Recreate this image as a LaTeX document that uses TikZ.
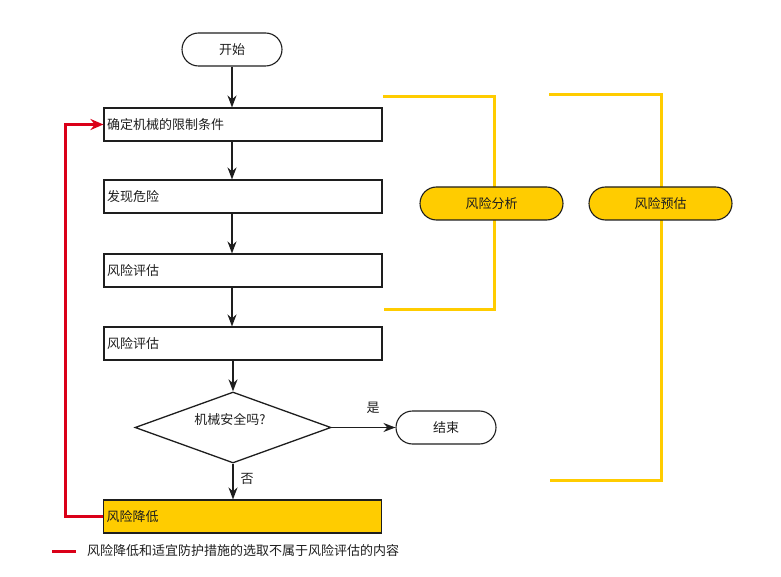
\documentclass[tikz,border=0pt]{standalone}
\usepackage{fontspec}
\setmainfont{Noto Sans CJK SC}
\usetikzlibrary{shapes.geometric,shapes.misc,arrows.meta}
\definecolor{yel}{RGB}{255,204,0}
\definecolor{redl}{RGB}{218,0,24}
\definecolor{edge}{RGB}{30,30,30}
\begin{document}
\begin{tikzpicture}[x=1pt,y=-1pt,
  every node/.style={font=\fontsize{13}{15}\selectfont, text=edge},
  stepbox/.style={draw=edge, line width=1.1pt, text width=272pt, align=left, inner sep=3pt, minimum height=33pt},
  term/.style={draw=edge, line width=1.1pt, rounded rectangle, minimum width=104pt, minimum height=33pt, inner sep=2pt},
  pill/.style={draw=edge, line width=1.1pt, fill=yel, rounded rectangle, minimum width=147pt, minimum height=33pt, inner sep=2pt},
  arr/.style={draw=edge, line width=1.5pt, -{Stealth[length=12pt,width=9pt]}},
  yline/.style={draw=yel, line width=3pt},
  redarr/.style={draw=redl, line width=3pt, -{Stealth[length=13pt,width=11pt]}}
]
\useasboundingbox (0,0) rectangle (781,577);

% yellow brackets (behind)
\coordinate (y1a) at (383,97);
\coordinate (y1b) at (494,97);
\coordinate (y1c) at (494,309);
\coordinate (y1d) at (384,309);
\draw[yline] (y1a) -- (y1b) -- (y1c) -- (y1d);
\coordinate (y2a) at (549,95);
\coordinate (y2b) at (661,95);
\coordinate (y2c) at (661,480);
\coordinate (y2d) at (550,480);
\draw[yline] (y2a) -- (y2b) -- (y2c) -- (y2d);

\node[pill] (p1) at (491.5,203.5) {风险分析};
\node[pill] (p2) at (660.5,203.5) {风险预估};

% main flow
\node[term] (start) at (232,49.5) {开始};
\node[stepbox] (b1) at (243,124.5) {确定机械的限制条件};
\node[stepbox] (b2) at (243,196.5) {发现危险};
\node[stepbox] (b3) at (243,270.5) {风险评估};
\node[stepbox] (b4) at (243,343.5) {风险评估};
\node[diamond, draw=edge, line width=1.3pt, minimum width=196pt, minimum height=71pt, inner sep=0pt, aspect=2.76] (dec) at (233,427.5) {};
\node (dect) at (230,419) {机械安全吗?};
\node[term] (end) at (446,427.5) {结束};
\node[stepbox, fill=yel] (b5) at (242.5,516.5) {风险降低};

\draw[arr] (start.south) -- (start.south |- b1.north);
\draw[arr] (b1.south -| start.south) -- (b2.north -| start.south);
\draw[arr] (b2.south -| start.south) -- (b3.north -| start.south);
\draw[arr] (b3.south -| start.south) -- (b4.north -| start.south);
\draw[arr] (b4.south -| dec.north) -- (dec.north);
\draw[arr] (dec.east) -- (end.west);
\draw[arr] (dec.south) -- (dec.south |- b5.north);

\node (yes) at (373,408) {是};
\node (no) at (247,479) {否};

% red feedback
\draw[redarr] (b5.west) -- ++(-37,0) |- (b1.west);

% legend
\coordinate (la) at (52,551);
\coordinate (lb) at (76,551);
\draw[draw=redl, line width=3pt] (la) -- (lb);
\node[anchor=west, inner sep=0pt] (legend) at (87,551) {风险降低和适宜防护措施的选取不属于风险评估的内容};
\end{tikzpicture}
\end{document}
